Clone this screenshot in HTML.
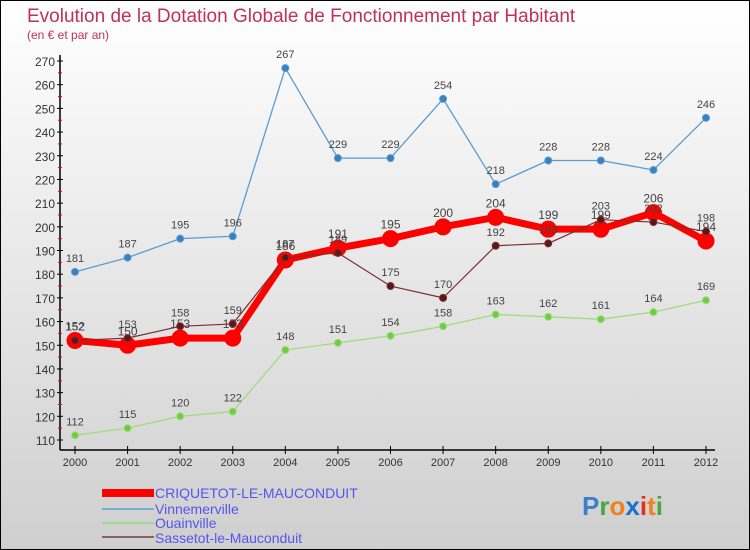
<!DOCTYPE html>
<html><head><meta charset="utf-8"><style>
body{margin:0}
#c{width:750px;height:550px;position:relative;overflow:hidden;font-family:"Liberation Sans",sans-serif}
svg text{font-family:"Liberation Sans",sans-serif}
</style></head><body>
<div id="c">
<svg id="s" width="750" height="550" xmlns="http://www.w3.org/2000/svg">
<defs><linearGradient id="bg" x1="0" y1="0" x2="0" y2="1"><stop offset="0" stop-color="#ffffff"/><stop offset="1" stop-color="#cfcfcf"/></linearGradient></defs>
<rect x="0.5" y="0.5" width="749" height="549" fill="url(#bg)" stroke="#000"/>
<text x="27" y="22" font-size="19" fill="#c0305a">Evolution de la Dotation Globale de Fonctionnement par Habitant</text>
<text x="27" y="39" font-size="12" fill="#c0305a">(en € et par an)</text>
<g id="axes"></g><g id="series"></g>
<g>
<rect x="102" y="489" width="52" height="8" fill="#ff0000"/>
<text x="155" y="498" font-size="14" fill="#5555ee">CRIQUETOT-LE-MAUCONDUIT</text>
<line x1="102" y1="509" x2="154" y2="509" stroke="#7aaed0" stroke-width="2"/>
<text x="155" y="514" font-size="14" fill="#5555ee">Vinnemerville</text>
<line x1="102" y1="523" x2="154" y2="523" stroke="#9fd88a" stroke-width="2"/>
<text x="155" y="528" font-size="14" fill="#5555ee">Ouainville</text>
<line x1="102" y1="537" x2="154" y2="537" stroke="#8a6060" stroke-width="2"/>
<text x="155" y="543" font-size="14" fill="#5555ee">Sassetot-le-Mauconduit</text>
</g>
<text x="582" y="515" font-size="26" font-weight="bold"><tspan fill="#3a7fd0">P</tspan><tspan fill="#4aa840">r</tspan><tspan fill="#f08020">o</tspan><tspan fill="#1a70d0">x</tspan><tspan fill="#e03020">i</tspan><tspan fill="#f08020">t</tspan><tspan fill="#4aa840">i</tspan></text>
</svg></div>
<script>
const years=["2000","2001","2002","2003","2004","2005","2006","2007","2008","2009","2010","2011","2012"];
const criquetot=[152,150,153,153,186,191,195,200,204,199,199,206,194];
const vinnemerville=[181,187,195,196,267,229,229,254,218,228,228,224,246];
const ouainville=[112,115,120,122,148,151,154,158,163,162,161,164,169];
const sassetot=[152,153,158,159,187,189,175,170,192,193,203,202,198];
const yTicks=[110,120,130,140,150,160,170,180,190,200,210,220,230,240,250,260,270];
const NS="http://www.w3.org/2000/svg";
const X=i=>75+i*(706-75)/12;
const Y=v=>440-(v-110)*(440-61)/160;
function mk(tag,at,parent){const e=document.createElementNS(NS,tag);for(const k in at)e.setAttribute(k,at[k]);parent.appendChild(e);return e;}
const ax=document.getElementById('axes');
const yl=mk('line',{x1:60,y1:55,x2:60,y2:450,stroke:'#000','stroke-width':1.5},ax);


const xl=mk('line',{x1:60,y1:450,x2:715,y2:450,stroke:'#000','stroke-width':1.5},ax);


yTicks.forEach(v=>{
 mk('line',{x1:57,y1:Y(v),x2:63,y2:Y(v),stroke:'#000'},ax);
 if(v<270)mk('line',{x1:58,y1:Y(v+5),x2:62,y2:Y(v+5),stroke:'#e00'},ax);
 const t=mk('text',{x:55,y:Y(v)+5,'text-anchor':'end','font-size':12,fill:'#333'},ax);t.textContent=v;
 
 
});
years.forEach((y,i)=>{
 mk('line',{x1:X(i),y1:446,x2:X(i),y2:454,stroke:'#000'},ax);
 const t=mk('text',{x:X(i),y:466,'text-anchor':'middle','font-size':11,fill:'#333'},ax);t.textContent=y;
 
 
});
const sg=document.getElementById('series');
function series(vals,name,color,w,r,fill,labelFs){
 const g=mk('g',{},sg);
 
 
 mk('polyline',{points:vals.map((v,i)=>X(i)+','+Y(v)).join(' '),fill:'none',stroke:color,'stroke-width':w,'stroke-linejoin':'round'},g);
 vals.forEach((v,i)=>{
  const c=mk('circle',{cx:X(i),cy:Y(v),r:r,fill:fill,stroke:color,'stroke-width':1},g);
  
  
  const t=mk('text',{x:X(i),y:Y(v)-10,'text-anchor':'middle','font-size':labelFs,fill:'#444'},g);t.textContent=v;
 });
}
series(vinnemerville,'vinnemerville','#5b9bd0',1.3,3.5,'#3a80c0',11);
series(ouainville,'ouainville','#9fdc80',1.3,3.5,'#70cc40',11);
series(criquetot,'criquetot','#ff0000',7,8,'#ff0000',12);
series(sassetot,'sassetot','#7a3030',1.2,3.5,'#5a1818',11);
</script>
</body></html>
